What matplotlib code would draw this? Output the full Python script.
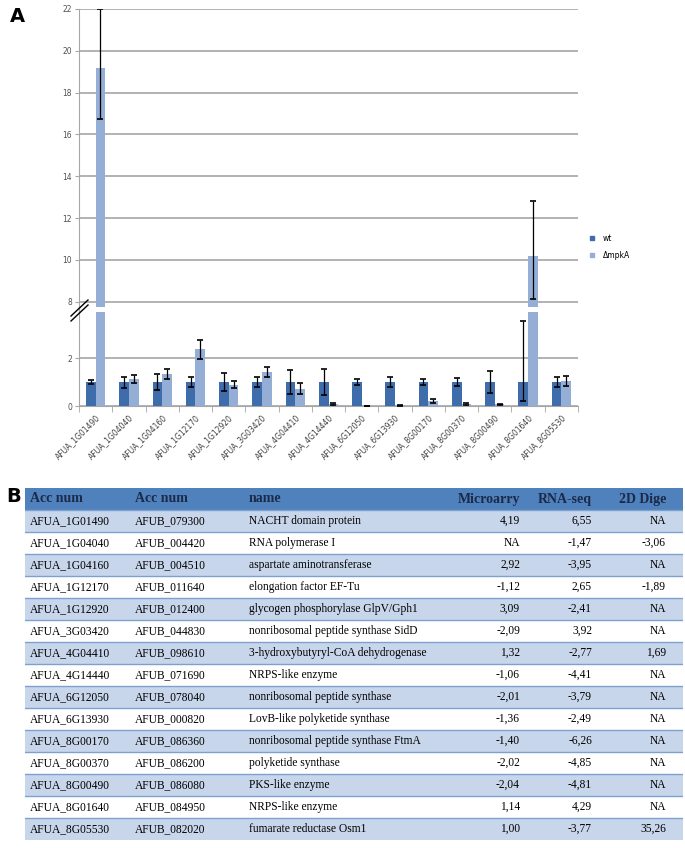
import numpy as np
import matplotlib.pyplot as plt

genes = ['AFUA_1G01490', 'AFUA_1G04040', 'AFUA_1G04160', 'AFUA_1G12170', 'AFUA_1G12920',
         'AFUA_3G03420', 'AFUA_4G04410', 'AFUA_4G14440', 'AFUA_6G12050', 'AFUA_6G13930',
         'AFUA_8G00170', 'AFUA_8G00370', 'AFUA_8G00490', 'AFUA_8G01640', 'AFUA_8G05530']
wt = [1.0, 1.0, 1.0, 1.0, 1.0, 1.0, 1.0, 1.0, 1.0, 1.0, 1.0, 1.0, 1.0, 1.0, 1.0]
wt_err_lo = [0.1, 0.23, 0.35, 0.19, 0.36, 0.19, 0.52, 0.55, 0.13, 0.19, 0.13, 0.15, 0.45, 0.78, 0.19]
wt_err_hi = [0.1, 0.23, 0.35, 0.19, 0.36, 0.19, 0.52, 0.55, 0.13, 0.19, 0.13, 0.15, 0.45, 2.56, 0.19]
mpk = [19.18, 1.12, 1.34, 2.37, 0.89, 1.41, 0.71, 0.09, 0.0, 0.04, 0.22, 0.08, 0.07, 10.2, 1.05]
mpk_err_lo = [2.45, 0.16, 0.2, 0.4, 0.14, 0.2, 0.23, 0.05, 0.0, 0.02, 0.08, 0.03, 0.03, 2.05, 0.2]
mpk_err_hi = [2.82, 0.16, 0.2, 0.4, 0.14, 0.2, 0.23, 0.05, 0.0, 0.02, 0.08, 0.03, 0.03, 2.62, 0.2]

tab_acc1 = genes
tab_acc2 = ['AFUB_079300', 'AFUB_004420', 'AFUB_004510', 'AFUB_011640', 'AFUB_012400',
            'AFUB_044830', 'AFUB_098610', 'AFUB_071690', 'AFUB_078040', 'AFUB_000820',
            'AFUB_086360', 'AFUB_086200', 'AFUB_086080', 'AFUB_084950', 'AFUB_082020']
tab_name = ['NACHT domain protein', 'RNA polymerase I', 'aspartate aminotransferase',
            'elongation factor EF-Tu', 'glycogen phosphorylase GlpV/Gph1',
            'nonribosomal peptide synthase SidD', '3-hydroxybutyryl-CoA dehydrogenase',
            'NRPS-like enzyme', 'nonribosomal peptide synthase', 'LovB-like polyketide synthase',
            'nonribosomal peptide synthase FtmA', 'polyketide synthase', 'PKS-like enzyme',
            'NRPS-like enzyme', 'fumarate reductase Osm1']
tab_micro = ['4,19', 'NA', '2,92', '-1,12', '3,09', '-2,09', '1,32', '-1,06', '-2,01', '-1,36',
             '-1,40', '-2,02', '-2,04', '1,14', '1,00']
tab_rna = ['6,55', '-1,47', '-3,95', '2,65', '-2,41', '3,92', '-2,77', '-4,41', '-3,79', '-2,49',
           '-6,26', '-4,85', '-4,81', '4,29', '-3,77']
tab_dige = ['NA', '-3,06', 'NA', '-1,89', 'NA', 'NA', '1,69', 'NA', 'NA', 'NA',
            'NA', 'NA', 'NA', 'NA', '35,26']
headers = ['Acc num', 'Acc num', 'name', 'Microarry', 'RNA-seq', '2D Dige']

W, H = 685, 848
dark = '#3f6cab'
light = '#94aed6'
gridc = '#a6a6a6'

fig = plt.figure(figsize=(W / 100, H / 100), dpi=100)

def box(x0, y0, x1, y1):
    return [x0 / W, 1 - y1 / H, (x1 - x0) / W, (y1 - y0) / H]

ax_up = fig.add_axes(box(79, 9, 578, 307))
ax_lo = fig.add_axes(box(79, 312, 578, 406))

x = np.arange(len(genes))
bw = 0.29
for ax in (ax_up, ax_lo):
    ax.bar(x - bw / 2, wt, bw, color=dark, zorder=3)
    ax.bar(x + bw / 2, mpk, bw, color=light, zorder=3)
    ax.errorbar(x - bw / 2, wt, yerr=[wt_err_lo, wt_err_hi], fmt='none', ecolor='black',
                elinewidth=0.9, capsize=2, capthick=1.2, zorder=4)
    ax.errorbar(x + bw / 2, mpk, yerr=[mpk_err_lo, mpk_err_hi], fmt='none', ecolor='black',
                elinewidth=0.9, capsize=2, capthick=1.2, zorder=4)
    ax.set_xlim(-0.5, len(genes) - 0.5)
    ax.yaxis.grid(True, color=gridc, lw=1.2, zorder=0)
    ax.spines[['top', 'right']].set_visible(False)
    ax.spines['left'].set_color(gridc)
    ax.spines['bottom'].set_color(gridc)
    ax.tick_params(axis='y', length=3, color=gridc, labelsize=5.5, labelcolor='#505050', pad=2)

ax_up.set_ylim(7.75, 22)
ax_up.set_yticks(np.arange(8, 23, 2))
ax_up.spines['bottom'].set_visible(False)
ax_up.tick_params(axis='x', bottom=False, labelbottom=False)

ax_lo.set_ylim(0, 3.92)
ax_lo.set_yticks([0, 2])
ax_lo.set_xticks(x)
ax_lo.set_xticklabels(genes, rotation=45, ha='right', rotation_mode='anchor',
                      fontsize=5.5, color='#404040')
ax_lo.tick_params(axis='x', length=0, pad=5)
ax_lo.set_xticks(np.arange(-0.5, len(genes), 1), minor=True)
ax_lo.tick_params(axis='x', which='minor', length=4, color=gridc)

# spine through the gap and break marks
fig.add_artist(plt.Line2D([79 / W, 79 / W], [1 - 312 / H, 1 - 307 / H], color=gridc, lw=1))
for dy in (0, 5):
    fig.add_artist(plt.Line2D([71 / W, 88 / W], [1 - (316 + dy) / H, 1 - (300 + dy) / H],
                              color='black', lw=1))

handles = [plt.Rectangle((0, 0), 1, 1, color=dark), plt.Rectangle((0, 0), 1, 1, color=light)]
fig.legend(handles, ['wt', '\u0394mpkA'], loc='upper left', bbox_to_anchor=(583 / W, 1 - 227 / H),
           frameon=False, fontsize=5.5, handlelength=0.5, handleheight=0.5, handletextpad=1.2,
           labelspacing=1.0)

fig.text(10 / W, 1 - 16 / H, 'A', fontsize=14, fontweight='bold', va='center')
fig.text(6 / W, 1 - 496 / H, 'B', fontsize=14, fontweight='bold', va='center')

# table
ax_t = fig.add_axes(box(25, 488, 683, 840))
n = len(tab_acc1) + 1
ax_t.set_xlim(0, 658)
ax_t.set_ylim(n, 0)
ax_t.axis('off')
ax_t.axhspan(0, 1, color='#4f81bd', lw=0)
for i in range(1, n):
    if i % 2 == 1:
        ax_t.axhspan(i, i + 1, color='#c8d6eb', lw=0)
    ax_t.axhline(i, color='#7da1cf', lw=1)

col_x = [5, 110, 224, 495, 567, 641]
col_ha = ['left', 'left', 'left', 'right', 'right', 'right']
serif = 'Liberation Serif'
for c, h in enumerate(headers):
    ax_t.text(col_x[c], 0.5, h, ha=col_ha[c], va='center', fontsize=10, fontweight='bold',
              family=serif, color='#1c2a4a')
cols = [tab_acc1, tab_acc2, tab_name, tab_micro, tab_rna, tab_dige]
for c, col in enumerate(cols):
    for r, v in enumerate(col):
        ax_t.text(col_x[c], r + 1.5, v, ha=col_ha[c], va='center', fontsize=8.3,
                  family=serif, color='black')

fig.savefig('out.png', dpi=100)
